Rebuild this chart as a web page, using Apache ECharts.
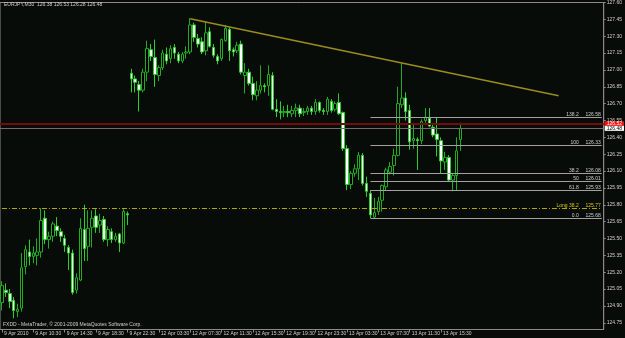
<!DOCTYPE html>
<html><head><meta charset="utf-8">
<script src="https://cdn.jsdelivr.net/npm/echarts@6/dist/echarts.min.js"></script>
<style>html,body{margin:0;padding:0;background:#080c09;}#c{width:625px;height:338px;}</style>
</head><body><div id="c"></div>
<script>
const header = 'EURJPY,M30  126.38 126.53 126.28 126.48';
const copyright = 'FXDD - MetaTrader, \u00a9 2001-2009 MetaQuotes Software Corp.';
const tickLabels = ['9 Apr 2010','9 Apr 10:30','9 Apr 14:30','9 Apr 18:30','9 Apr 22:30','12 Apr 03:30','12 Apr 07:30','12 Apr 11:30','12 Apr 15:30','12 Apr 19:30','12 Apr 23:30','13 Apr 03:30','13 Apr 07:30','13 Apr 11:30','13 Apr 15:30'];
const labelEvery = 8;
const slotCount = 154;
const priceTicks = [124.75,124.90,125.05,125.20,125.35,125.50,125.65,125.80,125.95,126.10,126.25,126.40,126.55,126.70,126.85,127.00,127.15,127.30,127.45,127.60];

const opens = [124.93,125.04,125.01,124.95,124.85,124.88,125.25,125.38,125.34,125.35,125.38,125.68,125.49,125.52,125.61,125.56,125.50,125.42,125.37,125.04,125.13,125.58,125.43,125.60,125.70,125.62,125.67,125.49,125.56,125.49,125.54,125.46,125.72,
126.97,126.92,126.87,126.82,126.98,127.18,127.11,126.95,127.02,127.14,127.10,127.20,127.14,127.08,127.15,127.16,127.40,127.28,127.25,127.17,127.34,127.20,127.12,127.10,127.26,127.36,127.18,127.17,127.23,126.95,126.98,126.88,126.77,126.82,126.86,126.86,126.95,126.65,126.63,126.62,126.63,126.61,126.64,126.66,126.62,126.63,126.66,126.63,126.71,126.64,126.63,126.72,126.65,126.71,126.62,126.30,125.98,126.08,126.12,126.24,125.99,125.90,125.69,125.74,125.84,125.96,126.09,126.15,126.24,126.69,126.75,126.64,126.37,126.38,126.37,126.55,126.57,126.49,126.43,126.37,126.18,126.22,126.02,126.06,126.38];
const highs = [125.12,125.10,125.05,124.98,124.92,125.37,125.44,125.49,125.43,125.50,125.77,125.75,125.56,125.65,125.69,125.59,125.53,125.44,125.40,125.19,125.68,125.80,125.75,125.75,125.76,125.72,125.70,125.61,125.59,125.55,125.55,125.76,125.74,
127.01,126.95,126.90,127.01,127.26,127.23,127.27,127.04,127.18,127.20,127.22,127.23,127.16,127.16,127.21,127.46,127.42,127.32,127.29,127.43,127.38,127.23,127.14,127.28,127.40,127.38,127.20,127.25,127.26,127.06,127.01,126.94,126.90,127.04,126.88,127.04,126.98,126.74,126.72,126.68,126.69,126.68,126.70,126.69,126.66,126.68,126.68,126.74,126.72,126.66,126.76,126.74,126.72,126.79,126.63,126.33,126.10,126.16,126.27,126.26,126.05,125.93,125.86,125.87,125.98,126.13,126.18,126.30,126.85,127.06,126.80,126.69,126.52,126.40,126.56,126.66,126.66,126.51,126.58,126.40,126.27,126.24,126.08,126.40,126.53];
const lows = [124.86,124.98,124.88,124.79,124.80,124.85,125.18,125.26,125.28,125.26,125.33,125.45,125.41,125.47,125.52,125.47,125.38,125.22,125.00,125.01,125.12,125.30,125.30,125.42,125.55,125.55,125.47,125.43,125.46,125.47,125.38,125.45,125.62,
126.80,126.80,126.63,126.80,126.90,127.08,126.85,126.90,127.00,127.05,127.06,127.10,127.06,127.06,127.10,127.14,127.25,127.20,127.14,127.13,127.20,127.11,127.05,127.08,127.25,127.08,127.12,127.15,126.96,126.79,126.86,126.73,126.73,126.79,126.80,126.77,126.64,126.58,126.56,126.58,126.58,126.58,126.58,126.58,126.59,126.60,126.60,126.60,126.62,126.60,126.60,126.62,126.63,126.60,126.28,125.93,125.94,126.05,126.02,125.97,125.87,125.68,125.68,125.71,125.74,125.93,126.07,126.06,126.23,126.66,126.55,126.29,126.30,126.11,126.34,126.53,126.49,126.40,126.23,126.08,126.11,126.01,125.92,125.93,126.28];
const closes = [125.08,125.02,124.94,124.86,124.87,125.24,125.40,125.34,125.37,125.38,125.66,125.49,125.52,125.63,125.57,125.52,125.44,125.37,125.02,125.15,125.59,125.41,125.59,125.68,125.60,125.66,125.49,125.58,125.49,125.52,125.46,125.74,125.71,
126.92,126.89,126.82,126.98,127.19,127.12,126.96,127.02,127.15,127.08,127.19,127.15,127.08,127.14,127.16,127.40,127.29,127.23,127.16,127.33,127.21,127.13,127.08,127.27,127.37,127.17,127.16,127.22,126.98,126.98,126.88,126.78,126.82,126.86,126.85,126.96,126.65,126.63,126.62,126.63,126.62,126.64,126.66,126.61,126.63,126.66,126.63,126.71,126.64,126.63,126.74,126.64,126.70,126.61,126.30,125.98,126.08,126.12,126.24,125.99,125.92,125.71,125.73,125.83,125.97,126.11,126.14,126.24,126.70,126.75,126.63,126.36,126.39,126.37,126.54,126.58,126.50,126.42,126.38,126.19,126.22,126.02,126.06,126.28,126.48];

const fibNames = ['138.2','100','38.2','50','61.8','0.0'];
const fibPrices = [126.58,126.33,126.08,126.01,125.93,125.68];
const fibStartBar = 94;
const longName = 'Long 38.2';
const longPrice = 125.77;
const trendStart = [48, 127.455];
const trendEnd = [142, 126.77];
const askPrice = 126.52;
const bidPrice = 126.48;

const categories = [];
for (let i = 0; i < slotCount; i++) categories.push('s' + i);
const isLabelSlot = (idx) => idx % labelEvery === 0 && (idx / labelEvery) < tickLabels.length;
const candleData = opens.map((o, i) => [o, closes[i], lows[i], highs[i]]);
const fmt2 = v => v.toFixed(2);
const FONT = 'Arial';
const lastSlot = slotCount - 1;
const grayTxt = '#cfcfcf';
const richGray = {a: {fontSize: 5, color: grayTxt, fontFamily: FONT}, b: {fontSize: 5, color: grayTxt, width: 22, align: 'right', fontFamily: FONT}};
const richYellow = {a: {fontSize: 5, color: '#d4c800', fontFamily: FONT}, b: {fontSize: 5, color: '#d4c800', width: 22, align: 'right', fontFamily: FONT}};

const fibLines = fibPrices.map((p, k) => [
  {coord: [fibStartBar, p], label: {formatter: '{a|' + fibNames[k] + '}{b|' + fmt2(p) + '}'}},
  {coord: [lastSlot, p]}
]);

const overlayLines = [
  [
    {coord: [0, longPrice], lineStyle: {color: '#b3a800', width: 1, type: [5, 2, 1, 2]},
     label: {show: true, position: 'insideEndTop', distance: [1, 0], formatter: '{a|' + longName + '}{b|' + fmt2(longPrice) + '}', rich: richYellow}},
    {coord: [lastSlot, longPrice]}
  ],
  {yAxis: askPrice, lineStyle: {color: '#750b0b', width: 2, type: 'solid'},
   label: {show: true, position: 'end', distance: 1, formatter: fmt2(askPrice), backgroundColor: '#ff1010', color: '#ffffff', fontSize: 5, fontFamily: FONT, padding: [0, 2], lineHeight: 5}},
  {yAxis: bidPrice, lineStyle: {color: '#6e6e6e', width: 1, type: 'solid'},
   label: {show: true, position: 'end', distance: 1, formatter: fmt2(bidPrice), backgroundColor: '#ffffff', color: '#000000', fontSize: 5, fontFamily: FONT, padding: [0, 2], lineHeight: 5}}
];

const chart = echarts.init(document.getElementById('c'), null, {renderer: 'canvas'});
chart.setOption({
  backgroundColor: '#080c09',
  animation: false,
  grid: {left: 0, right: 19, top: 2, bottom: 8.5, show: true, borderColor: '#8a8a8a', borderWidth: 1, backgroundColor: 'transparent'},
  graphic: [
    {type: 'text', left: 4, top: 2, style: {text: header, fill: grayTxt, font: '5px ' + FONT}},
    {type: 'text', left: 3, top: 322, style: {text: copyright, fill: grayTxt, font: '5px ' + FONT}}
  ],
  xAxis: {
    type: 'category', data: categories, boundaryGap: true,
    axisLine: {show: true, lineStyle: {color: '#8a8a8a'}},
    axisTick: {show: true, alignWithLabel: true, length: 3, interval: (idx) => isLabelSlot(idx), lineStyle: {color: '#8a8a8a'}},
    axisLabel: {show: true, interval: (idx) => isLabelSlot(idx), formatter: (v, idx) => tickLabels[idx / labelEvery], color: grayTxt, fontSize: 5, fontFamily: FONT, align: 'left', margin: 2, padding: [0, 0, 0, 2]},
    splitLine: {show: false}
  },
  yAxis: {
    type: 'value', position: 'right', min: 124.69, max: 127.60, scale: true,
    axisLine: {show: true, lineStyle: {color: '#8a8a8a'}},
    axisTick: {show: true, length: 2, customValues: priceTicks, lineStyle: {color: '#8a8a8a'}},
    axisLabel: {show: true, customValues: priceTicks, formatter: v => fmt2(v), color: grayTxt, fontSize: 5, fontFamily: FONT, margin: 3},
    splitLine: {show: false}
  },
  series: [
    {
      type: 'candlestick', data: candleData, barWidth: 3,
      itemStyle: {color: '#000000', color0: '#ffffff', borderColor: '#1fae1f', borderColor0: '#2ccf2c', borderWidth: 1},
      markLine: {
        silent: true, symbol: 'none', animation: false,
        lineStyle: {color: '#a2a2a2', width: 1, type: 'solid'},
        label: {position: 'insideEndTop', distance: [1, 0], color: grayTxt, fontSize: 5, fontFamily: FONT, rich: richGray},
        data: fibLines
      }
    },
    {
      type: 'line', data: [], silent: true,
      markLine: {silent: true, symbol: 'none', animation: false, data: overlayLines}
    },
    {
      type: 'line', data: [trendStart, trendEnd], silent: true, showSymbol: false, symbol: 'none',
      lineStyle: {color: '#9c8c1c', width: 1.5}
    }
  ]
});
</script></body></html>
